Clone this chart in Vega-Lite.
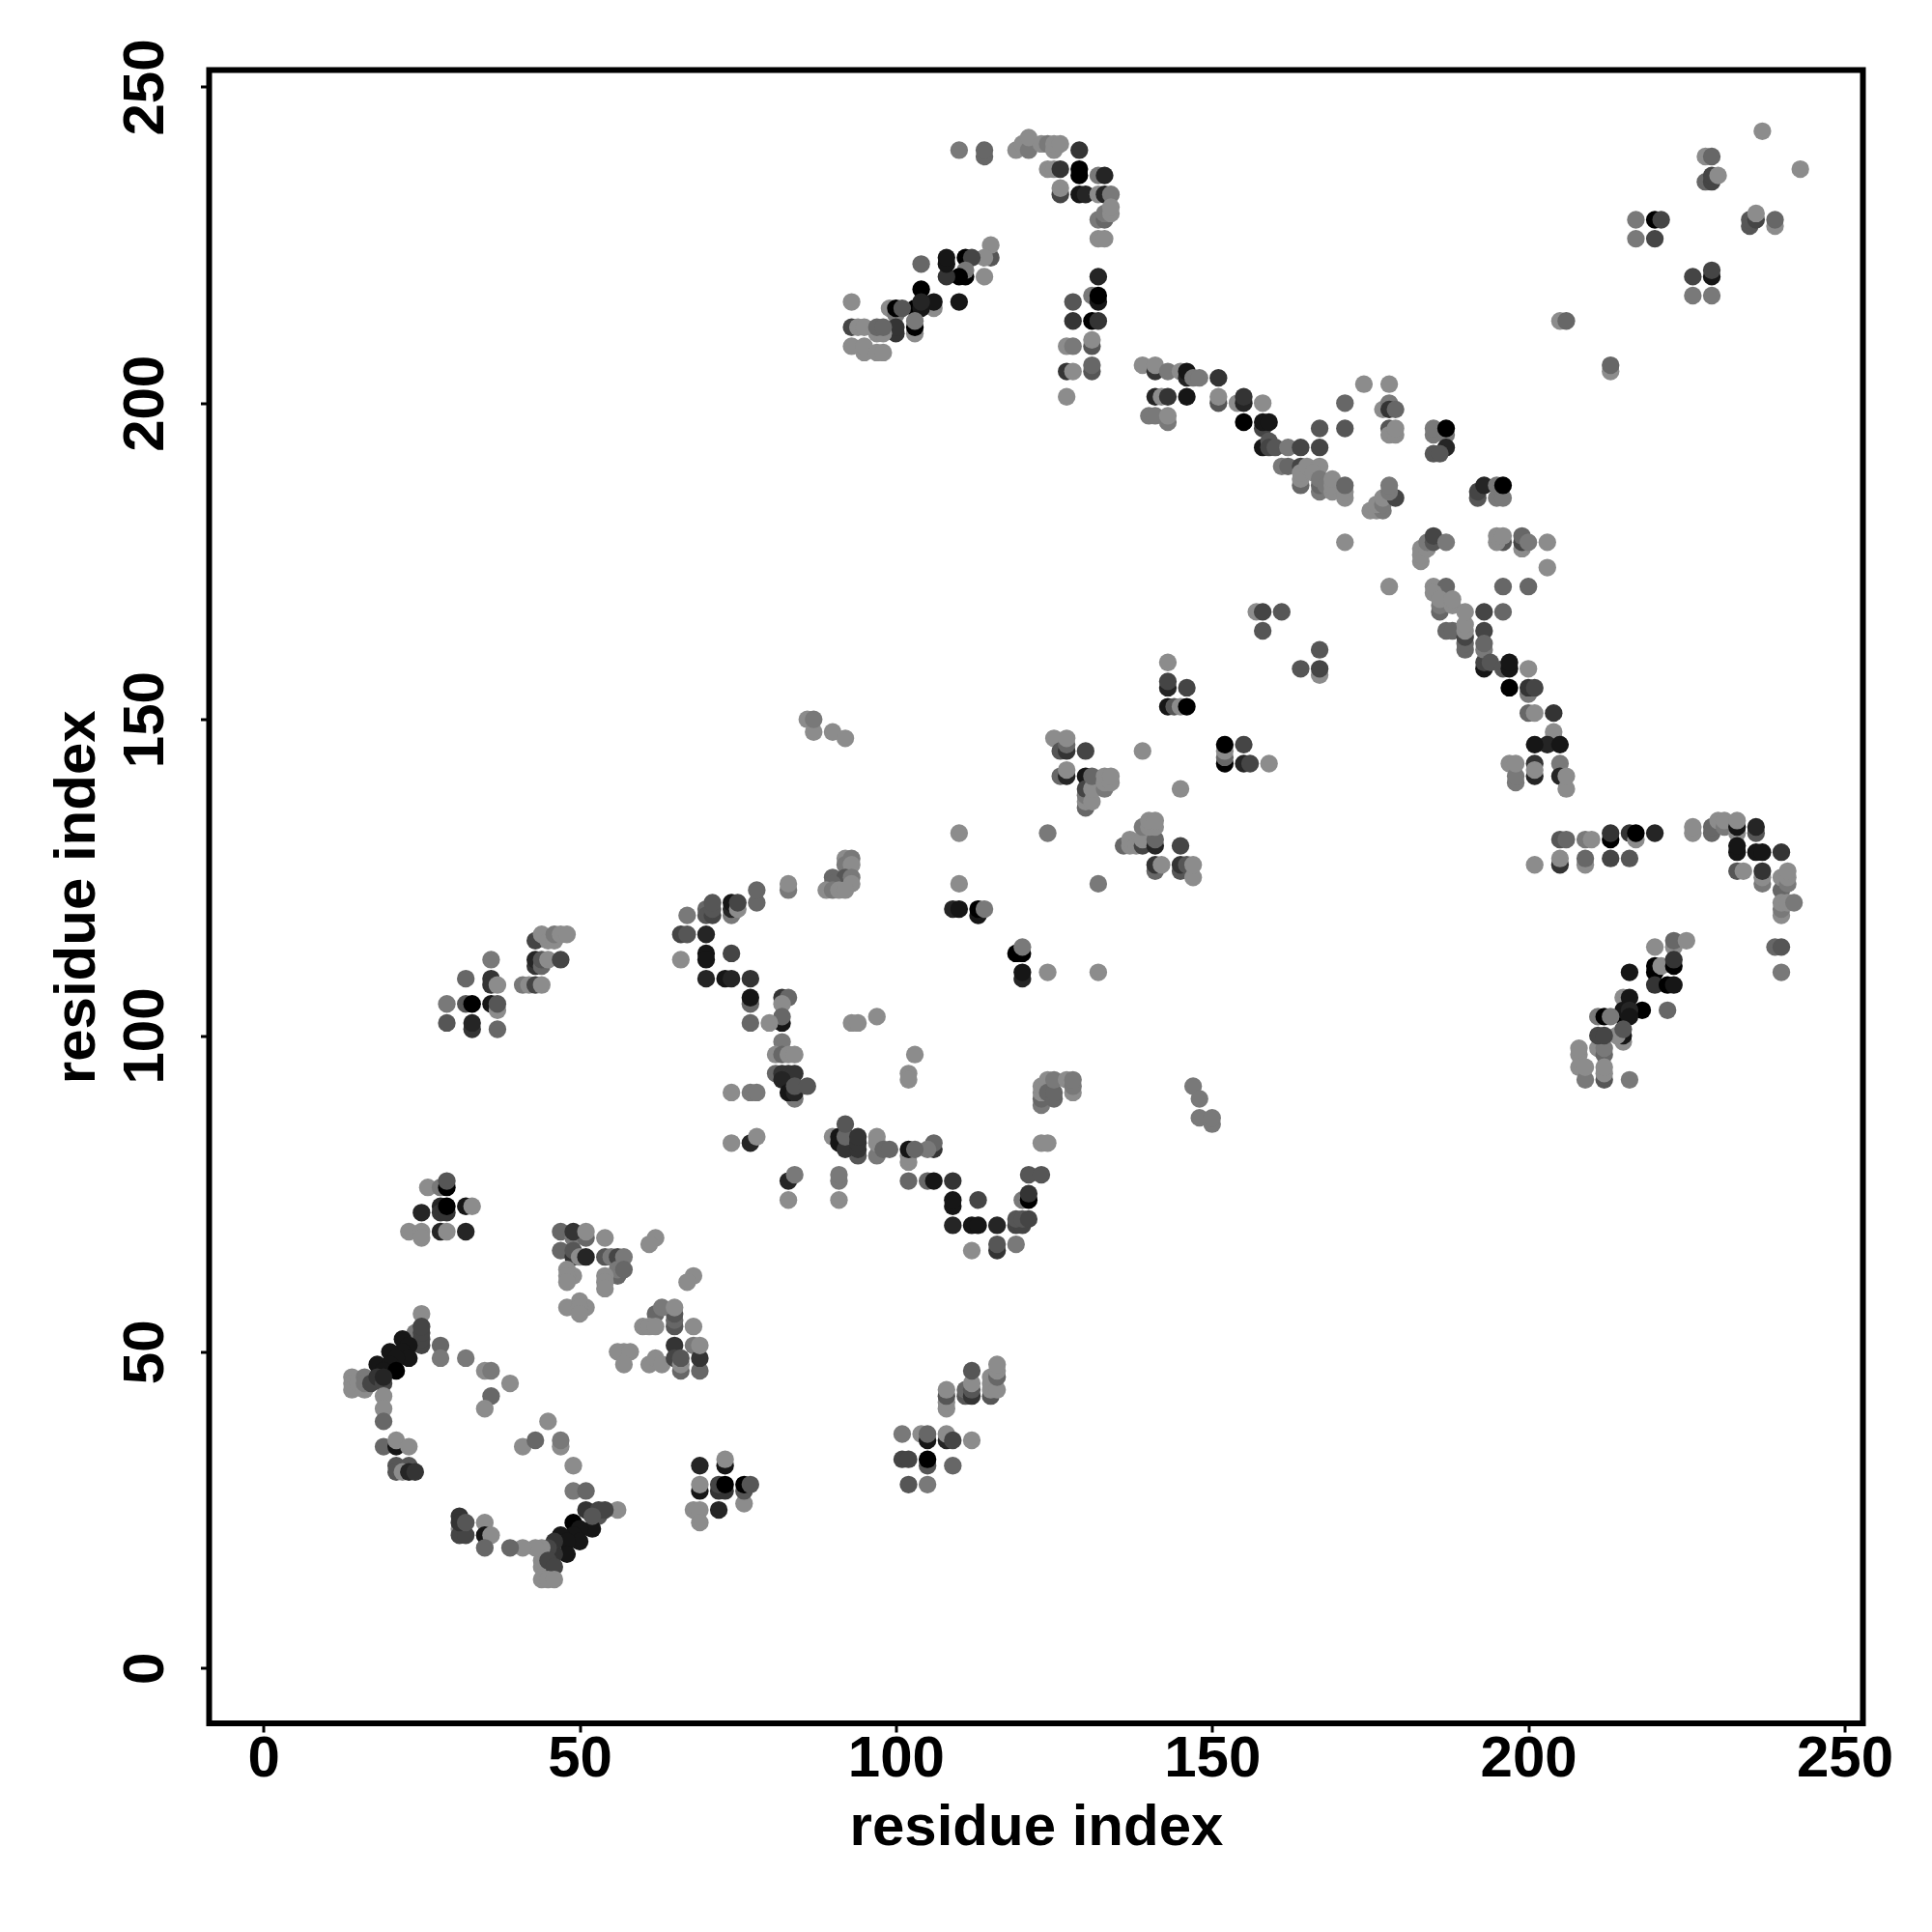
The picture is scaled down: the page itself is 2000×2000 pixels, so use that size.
{"$schema":"https://vega.github.io/schema/vega-lite/v6.json","width":1712,"height":1711.5,"autosize":"none","padding":{"left":216.5,"top":72.5,"right":71.5,"bottom":216},"background":"white","config":{"view":{"stroke":"black","strokeWidth":6}},"data":{"values":[
{"x":26,"y":76,"s":0},{"x":28,"y":76,"s":1},{"x":29,"y":76,"s":8},{"x":29,"y":77,"s":3},{"x":25,"y":72,"s":6},{"x":28,"y":73,"s":6},{"x":28,"y":72,"s":5},{"x":29,"y":72,"s":5},{"x":29,"y":73,"s":8},{"x":32,"y":73,"s":7},{"x":33,"y":73,"s":0},{"x":23,"y":69,"s":0},{"x":25,"y":69,"s":0},{"x":25,"y":68,"s":0},{"x":28,"y":69,"s":6},{"x":29,"y":69,"s":0},{"x":32,"y":69,"s":6},
{"x":47,"y":69,"s":2},{"x":49,"y":68,"s":1},{"x":51,"y":68,"s":2},{"x":49,"y":69,"s":5},{"x":51,"y":69,"s":0},{"x":54,"y":68,"s":0},{"x":62,"y":68,"s":0},{"x":61,"y":67,"s":0},{"x":47,"y":66,"s":2},{"x":49,"y":65,"s":5},{"x":49,"y":66,"s":3},{"x":50,"y":65,"s":0},{"x":51,"y":65,"s":6},{"x":54,"y":65,"s":3},{"x":55,"y":65,"s":1},{"x":56,"y":65,"s":4},{"x":57,"y":65,"s":1},{"x":48,"y":63,"s":0},{"x":49,"y":62,"s":0},{"x":48,"y":62,"s":0},{"x":48,"y":61,"s":0},{"x":56,"y":62,"s":2},{"x":56,"y":63,"s":1},{"x":57,"y":63,"s":2},{"x":54,"y":62,"s":0},{"x":54,"y":61,"s":0},{"x":54,"y":60,"s":0},{"x":68,"y":62,"s":0},{"x":67,"y":61,"s":0},{"x":48,"y":57,"s":0},{"x":50,"y":58,"s":0},{"x":51,"y":57,"s":0},{"x":50,"y":57,"s":0},{"x":50,"y":56,"s":0},
{"x":65,"y":54,"s":3},{"x":65,"y":55,"s":2},{"x":65,"y":56,"s":3},{"x":62,"y":56,"s":2},{"x":63,"y":57,"s":1},{"x":65,"y":57,"s":0},{"x":60,"y":54,"s":0},{"x":61,"y":54,"s":0},{"x":62,"y":54,"s":0},{"x":68,"y":54,"s":0},{"x":57,"y":50,"s":0},{"x":56,"y":50,"s":0},{"x":58,"y":50,"s":0},{"x":57,"y":48,"s":0},{"x":61,"y":48,"s":0},{"x":62,"y":49,"s":0},{"x":63,"y":48,"s":0},{"x":65,"y":51,"s":5},{"x":65,"y":49,"s":4},{"x":66,"y":47,"s":2},{"x":66,"y":48,"s":0},{"x":66,"y":49,"s":3},{"x":68,"y":51,"s":1},{"x":69,"y":47,"s":2},{"x":69,"y":49,"s":5},{"x":69,"y":51,"s":0},
{"x":25,"y":56,"s":0},{"x":24,"y":52,"s":2},{"x":24,"y":53,"s":1},{"x":25,"y":51,"s":4},{"x":25,"y":52,"s":4},{"x":25,"y":53,"s":4},{"x":25,"y":54,"s":4},{"x":22,"y":52,"s":7},{"x":23,"y":51,"s":7},{"x":22,"y":50,"s":7},{"x":20,"y":50,"s":7},{"x":23,"y":49,"s":7},{"x":21,"y":49,"s":7},{"x":18,"y":48,"s":7},{"x":20,"y":48,"s":7},{"x":19,"y":47,"s":7},{"x":21,"y":47,"s":8},{"x":14,"y":46,"s":0},{"x":14,"y":45,"s":0},{"x":14,"y":44,"s":0},{"x":15,"y":45,"s":0},{"x":16,"y":44,"s":0},{"x":16,"y":46,"s":1},{"x":16,"y":45,"s":1},{"x":17,"y":45,"s":4},{"x":18,"y":46,"s":5},{"x":19,"y":45,"s":4},{"x":19,"y":46,"s":6},{"x":19,"y":43,"s":0},{"x":19,"y":41,"s":0},{"x":19,"y":39,"s":2},
{"x":28,"y":51,"s":2},{"x":28,"y":49,"s":1},{"x":32,"y":49,"s":1},{"x":35,"y":47,"s":0},{"x":36,"y":47,"s":1},{"x":39,"y":45,"s":0},{"x":36,"y":43,"s":2},{"x":35,"y":41,"s":0},{"x":45,"y":39,"s":0},{"x":41,"y":35,"s":0},{"x":43,"y":36,"s":2},{"x":47,"y":35,"s":0},{"x":47,"y":36,"s":1},{"x":49,"y":32,"s":0},{"x":49,"y":28,"s":1},{"x":51,"y":28,"s":2},
{"x":56,"y":25,"s":0},{"x":53,"y":24,"s":3},{"x":51,"y":25,"s":5},{"x":53,"y":25,"s":4},{"x":54,"y":25,"s":4},{"x":52,"y":22,"s":7},{"x":52,"y":24,"s":3},{"x":49,"y":23,"s":8},{"x":50,"y":22,"s":7},{"x":49,"y":21,"s":7},{"x":50,"y":20,"s":7},{"x":47,"y":21,"s":7},{"x":48,"y":20,"s":7},{"x":48,"y":18,"s":7},{"x":46,"y":18,"s":5},{"x":46,"y":20,"s":5},{"x":45,"y":19,"s":4},{"x":44,"y":19,"s":0},{"x":44,"y":16,"s":0},{"x":44,"y":17,"s":0},{"x":45,"y":17,"s":4},{"x":46,"y":16,"s":4},{"x":44,"y":14,"s":0},{"x":45,"y":14,"s":0},{"x":46,"y":14,"s":0},{"x":43,"y":19,"s":0},{"x":41,"y":19,"s":0},{"x":39,"y":19,"s":2},{"x":35,"y":23,"s":0},{"x":35,"y":21,"s":7},{"x":36,"y":21,"s":0},{"x":35,"y":19,"s":2},{"x":31,"y":22,"s":0},{"x":31,"y":21,"s":4},{"x":32,"y":21,"s":4},{"x":31,"y":24,"s":5},{"x":31,"y":23,"s":5},{"x":32,"y":23,"s":3},
{"x":19,"y":35,"s":2},{"x":21,"y":35,"s":7},{"x":21,"y":36,"s":0},{"x":23,"y":35,"s":0},{"x":21,"y":32,"s":3},{"x":23,"y":32,"s":3},{"x":21,"y":31,"s":3},{"x":22,"y":31,"s":0},{"x":23,"y":31,"s":6},{"x":24,"y":31,"s":5},
{"x":69,"y":32,"s":6},{"x":73,"y":32,"s":7},{"x":73,"y":33,"s":0},{"x":69,"y":28,"s":7},{"x":69,"y":29,"s":0},{"x":72,"y":28,"s":5},{"x":73,"y":28,"s":5},{"x":72,"y":29,"s":4},{"x":73,"y":29,"s":8},{"x":76,"y":26,"s":0},{"x":76,"y":28,"s":3},{"x":76,"y":29,"s":8},{"x":77,"y":29,"s":3},{"x":68,"y":25,"s":0},{"x":69,"y":25,"s":0},{"x":72,"y":25,"s":6},{"x":69,"y":23,"s":0},
{"x":147,"y":92,"s":1},{"x":148,"y":90,"s":1},{"x":148,"y":87,"s":1},{"x":150,"y":86,"s":1},{"x":150,"y":87,"s":1},
{"x":86,"y":150,"s":0},{"x":87,"y":148,"s":0},{"x":87,"y":150,"s":1},{"x":90,"y":148,"s":0},{"x":92,"y":147,"s":0},
{"x":110,"y":132,"s":0},{"x":110,"y":124,"s":0},{"x":132,"y":124,"s":1},{"x":124,"y":132,"s":1},
{"x":92,"y":128,"s":0},{"x":92,"y":127,"s":1},{"x":93,"y":128,"s":1},{"x":93,"y":127,"s":0},{"x":90,"y":125,"s":2},{"x":92,"y":125,"s":3},{"x":93,"y":125,"s":1},{"x":93,"y":124,"s":0},{"x":90,"y":124,"s":2},{"x":89,"y":123,"s":0},{"x":90,"y":123,"s":1},{"x":91,"y":123,"s":0},{"x":92,"y":123,"s":0},{"x":83,"y":123,"s":1},{"x":83,"y":124,"s":0},{"x":78,"y":121,"s":2},{"x":78,"y":123,"s":2},
{"x":74,"y":119,"s":1},{"x":74,"y":120,"s":6},{"x":74,"y":121,"s":7},{"x":75,"y":120,"s":0},{"x":75,"y":121,"s":4},{"x":70,"y":120,"s":2},{"x":70,"y":119,"s":3},{"x":71,"y":119,"s":4},{"x":71,"y":120,"s":3},{"x":71,"y":121,"s":3},{"x":67,"y":119,"s":1},{"x":66,"y":116,"s":4},{"x":67,"y":116,"s":3},{"x":70,"y":116,"s":6},{"x":70,"y":113,"s":7},{"x":70,"y":112,"s":7},{"x":74,"y":113,"s":4},{"x":66,"y":112,"s":0},{"x":70,"y":109,"s":6},{"x":73,"y":109,"s":7},{"x":74,"y":109,"s":6},{"x":77,"y":109,"s":5},{"x":77,"y":105,"s":2},{"x":77,"y":106,"s":7},{"x":82,"y":106,"s":5},{"x":83,"y":106,"s":2},{"x":82,"y":105,"s":0},{"x":82,"y":102,"s":7},{"x":82,"y":103,"s":2},{"x":77,"y":102,"s":2},{"x":80,"y":102,"s":0},{"x":93,"y":102,"s":0},{"x":94,"y":102,"s":0},{"x":97,"y":103,"s":0},
{"x":82,"y":99,"s":1},{"x":81,"y":97,"s":0},{"x":82,"y":97,"s":2},{"x":83,"y":97,"s":0},{"x":84,"y":97,"s":0},{"x":81,"y":94,"s":2},{"x":82,"y":94,"s":5},{"x":83,"y":94,"s":5},{"x":84,"y":94,"s":5},{"x":82,"y":93,"s":6},{"x":84,"y":90,"s":1},{"x":83,"y":91,"s":7},{"x":84,"y":91,"s":6},{"x":84,"y":92,"s":3},{"x":86,"y":92,"s":3},{"x":74,"y":91,"s":0},{"x":77,"y":91,"s":1},{"x":78,"y":91,"s":1},{"x":103,"y":97,"s":0},{"x":102,"y":94,"s":0},{"x":102,"y":93,"s":0},
{"x":109,"y":120,"s":6},{"x":110,"y":120,"s":7},{"x":113,"y":119,"s":7},{"x":113,"y":120,"s":8},{"x":114,"y":120,"s":1},{"x":119,"y":113,"s":8},{"x":120,"y":113,"s":8},{"x":120,"y":114,"s":1},{"x":120,"y":109,"s":6},{"x":120,"y":110,"s":7},{"x":124,"y":110,"s":0},{"x":132,"y":110,"s":0},
{"x":123,"y":89,"s":1},{"x":123,"y":90,"s":2},{"x":123,"y":91,"s":0},{"x":123,"y":92,"s":0},{"x":124,"y":93,"s":0},{"x":124,"y":91,"s":2},{"x":125,"y":90,"s":2},{"x":125,"y":91,"s":2},{"x":125,"y":93,"s":1},{"x":127,"y":93,"s":0},{"x":128,"y":91,"s":0},{"x":128,"y":92,"s":1},{"x":128,"y":93,"s":1},{"x":123,"y":83,"s":0},{"x":124,"y":83,"s":0},{"x":121,"y":78,"s":3},{"x":123,"y":78,"s":3},
{"x":120,"y":74,"s":1},{"x":121,"y":74,"s":8},{"x":121,"y":75,"s":5},{"x":119,"y":70,"s":4},{"x":120,"y":70,"s":4},{"x":119,"y":71,"s":3},{"x":120,"y":71,"s":3},{"x":121,"y":71,"s":4},{"x":116,"y":70,"s":6},{"x":112,"y":70,"s":7},{"x":113,"y":70,"s":7},{"x":109,"y":70,"s":6},{"x":109,"y":73,"s":7},{"x":109,"y":74,"s":7},{"x":113,"y":74,"s":4},{"x":109,"y":77,"s":5},{"x":105,"y":77,"s":2},{"x":106,"y":77,"s":7},{"x":102,"y":77,"s":2},{"x":116,"y":66,"s":5},{"x":116,"y":67,"s":3},{"x":119,"y":67,"s":1},{"x":112,"y":66,"s":0},
{"x":106,"y":82,"s":5},{"x":106,"y":83,"s":2},{"x":105,"y":82,"s":1},{"x":102,"y":80,"s":0},{"x":102,"y":81,"s":0},{"x":102,"y":82,"s":7},{"x":103,"y":82,"s":2},{"x":97,"y":81,"s":1},{"x":97,"y":83,"s":0},{"x":97,"y":84,"s":0},{"x":98,"y":82,"s":2},{"x":99,"y":82,"s":2},{"x":94,"y":81,"s":3},{"x":90,"y":84,"s":0},{"x":91,"y":84,"s":7},{"x":91,"y":83,"s":7},{"x":92,"y":82,"s":5},{"x":92,"y":84,"s":2},{"x":92,"y":86,"s":3},{"x":94,"y":82,"s":5},{"x":94,"y":83,"s":5},{"x":94,"y":84,"s":5},
{"x":74,"y":83,"s":0},{"x":77,"y":83,"s":6},{"x":78,"y":84,"s":0},{"x":83,"y":77,"s":6},{"x":84,"y":78,"s":1},{"x":83,"y":74,"s":0},{"x":91,"y":77,"s":1},{"x":91,"y":78,"s":1},{"x":91,"y":74,"s":0},
{"x":139,"y":206,"s":0},{"x":141,"y":205,"s":5},{"x":141,"y":206,"s":0},{"x":143,"y":205,"s":1},{"x":145,"y":205,"s":0},{"x":146,"y":204,"s":6},{"x":146,"y":205,"s":7},{"x":147,"y":204,"s":1},{"x":148,"y":204,"s":1},{"x":151,"y":204,"s":5},{"x":141,"y":201,"s":6},{"x":142,"y":201,"s":0},{"x":143,"y":201,"s":5},{"x":146,"y":201,"s":7},{"x":140,"y":198,"s":1},{"x":141,"y":198,"s":1},{"x":143,"y":197,"s":1},{"x":143,"y":198,"s":0},{"x":151,"y":200,"s":3},{"x":151,"y":201,"s":0},{"x":154,"y":200,"s":0},{"x":155,"y":200,"s":6},{"x":155,"y":201,"s":5},{"x":158,"y":200,"s":0},{"x":155,"y":197,"s":8},{"x":158,"y":196,"s":4},{"x":158,"y":197,"s":7},{"x":159,"y":197,"s":7},{"x":158,"y":193,"s":7},{"x":159,"y":194,"s":3},{"x":159,"y":193,"s":4},{"x":160,"y":193,"s":3},{"x":162,"y":193,"s":1},{"x":164,"y":193,"s":4},{"x":167,"y":193,"s":4},{"x":167,"y":196,"s":3},{"x":171,"y":196,"s":3},{"x":171,"y":200,"s":2},{"x":174,"y":203,"s":0},{"x":178,"y":203,"s":0},{"x":177,"y":199,"s":0},{"x":178,"y":200,"s":1},{"x":178,"y":199,"s":5},{"x":179,"y":199,"s":2},{"x":178,"y":196,"s":3},{"x":178,"y":195,"s":0},{"x":179,"y":195,"s":0},{"x":179,"y":196,"s":0},
{"x":185,"y":195,"s":1},{"x":185,"y":196,"s":1},{"x":187,"y":195,"s":1},{"x":187,"y":196,"s":8},{"x":187,"y":193,"s":6},{"x":185,"y":192,"s":3},{"x":186,"y":192,"s":3},{"x":192,"y":185,"s":3},{"x":192,"y":186,"s":4},{"x":193,"y":187,"s":6},{"x":195,"y":185,"s":1},{"x":196,"y":185,"s":1},{"x":195,"y":187,"s":1},{"x":196,"y":187,"s":8},
{"x":161,"y":190,"s":1},{"x":162,"y":190,"s":2},{"x":164,"y":187,"s":2},{"x":164,"y":190,"s":4},{"x":164,"y":188,"s":0},{"x":164,"y":189,"s":0},{"x":165,"y":190,"s":0},{"x":167,"y":190,"s":0},{"x":166,"y":189,"s":0},{"x":167,"y":186,"s":1},{"x":167,"y":187,"s":2},{"x":167,"y":188,"s":1},{"x":168,"y":187,"s":1},{"x":169,"y":186,"s":0},{"x":169,"y":187,"s":0},{"x":169,"y":188,"s":0},{"x":171,"y":185,"s":0},{"x":171,"y":186,"s":0},{"x":171,"y":187,"s":2},
{"x":175,"y":183,"s":0},{"x":176,"y":183,"s":0},{"x":177,"y":183,"s":1},{"x":176,"y":184,"s":0},{"x":177,"y":184,"s":1},{"x":177,"y":185,"s":0},{"x":179,"y":185,"s":4},{"x":178,"y":186,"s":1},{"x":178,"y":187,"s":1},{"x":171,"y":178,"s":0},
{"x":183,"y":175,"s":0},{"x":183,"y":176,"s":0},{"x":183,"y":177,"s":0},{"x":184,"y":177,"s":0},{"x":184,"y":178,"s":1},{"x":185,"y":178,"s":3},{"x":185,"y":179,"s":4},{"x":187,"y":178,"s":1},{"x":196,"y":178,"s":3},{"x":195,"y":178,"s":0},{"x":195,"y":179,"s":0},{"x":196,"y":179,"s":0},{"x":199,"y":177,"s":0},{"x":199,"y":178,"s":4},{"x":199,"y":179,"s":2},{"x":200,"y":178,"s":1},{"x":203,"y":178,"s":0},{"x":203,"y":174,"s":0},
{"x":178,"y":171,"s":0},{"x":196,"y":171,"s":2},{"x":200,"y":171,"s":2},{"x":185,"y":171,"s":0},{"x":187,"y":171,"s":2},{"x":185,"y":170,"s":0},{"x":186,"y":167,"s":2},{"x":186,"y":168,"s":1},{"x":186,"y":169,"s":0},{"x":188,"y":168,"s":0},{"x":188,"y":169,"s":0},{"x":193,"y":167,"s":4},{"x":196,"y":167,"s":2},{"x":187,"y":164,"s":2},{"x":188,"y":164,"s":2},{"x":190,"y":161,"s":2},{"x":190,"y":162,"s":2},{"x":190,"y":163,"s":4},{"x":190,"y":164,"s":0},{"x":190,"y":165,"s":0},{"x":190,"y":167,"s":0},{"x":193,"y":164,"s":4},{"x":193,"y":158,"s":7},{"x":193,"y":159,"s":4},{"x":193,"y":161,"s":1},{"x":193,"y":162,"s":2},{"x":194,"y":159,"s":3},{"x":196,"y":158,"s":3},{"x":197,"y":158,"s":7},{"x":197,"y":159,"s":7},{"x":200,"y":158,"s":0},{"x":197,"y":155,"s":8},{"x":200,"y":154,"s":1},{"x":200,"y":155,"s":5},{"x":201,"y":155,"s":4},{"x":200,"y":151,"s":2},{"x":201,"y":151,"s":0},{"x":204,"y":151,"s":5},{"x":204,"y":147,"s":1},{"x":204,"y":148,"s":0},{"x":203,"y":146,"s":6},{"x":205,"y":146,"s":7},{"x":201,"y":146,"s":7},{"x":205,"y":143,"s":1},{"x":201,"y":141,"s":6},{"x":201,"y":143,"s":5},{"x":201,"y":142,"s":0},{"x":197,"y":143,"s":0},{"x":198,"y":140,"s":1},{"x":198,"y":141,"s":1},{"x":198,"y":143,"s":0},{"x":205,"y":141,"s":6},{"x":206,"y":139,"s":0},{"x":206,"y":141,"s":0},
{"x":157,"y":167,"s":0},{"x":158,"y":167,"s":4},{"x":161,"y":167,"s":3},{"x":158,"y":164,"s":3},{"x":167,"y":161,"s":3},{"x":164,"y":158,"s":3},{"x":167,"y":157,"s":0},{"x":167,"y":158,"s":4},{"x":143,"y":159,"s":0},{"x":143,"y":155,"s":6},{"x":143,"y":156,"s":4},{"x":146,"y":155,"s":4},{"x":143,"y":152,"s":7},{"x":144,"y":152,"s":3},{"x":145,"y":152,"s":0},{"x":146,"y":152,"s":8},{"x":152,"y":143,"s":8},{"x":152,"y":144,"s":2},{"x":152,"y":145,"s":0},{"x":152,"y":146,"s":8},{"x":155,"y":146,"s":4},{"x":155,"y":143,"s":6},{"x":156,"y":143,"s":4},{"x":159,"y":143,"s":0},{"x":139,"y":145,"s":0},{"x":145,"y":139,"s":0},
{"x":125,"y":147,"s":0},{"x":126,"y":145,"s":3},{"x":127,"y":145,"s":5},{"x":127,"y":146,"s":2},{"x":127,"y":147,"s":0},{"x":130,"y":145,"s":4},{"x":126,"y":141,"s":2},{"x":127,"y":141,"s":6},{"x":127,"y":142,"s":0},{"x":130,"y":141,"s":7},{"x":130,"y":136,"s":2},{"x":130,"y":137,"s":0},{"x":130,"y":138,"s":1},{"x":130,"y":139,"s":4},{"x":131,"y":137,"s":0},{"x":131,"y":139,"s":0},{"x":131,"y":141,"s":2},{"x":133,"y":139,"s":1},{"x":133,"y":140,"s":0},{"x":133,"y":141,"s":0},{"x":134,"y":140,"s":0},{"x":134,"y":141,"s":0},
{"x":136,"y":130,"s":2},{"x":137,"y":130,"s":0},{"x":137,"y":131,"s":0},{"x":138,"y":130,"s":0},{"x":139,"y":130,"s":4},{"x":139,"y":131,"s":0},{"x":139,"y":133,"s":1},{"x":141,"y":130,"s":6},{"x":141,"y":131,"s":2},{"x":140,"y":133,"s":0},{"x":141,"y":133,"s":0},{"x":140,"y":134,"s":0},{"x":141,"y":134,"s":0},{"x":145,"y":130,"s":4},{"x":141,"y":126,"s":2},{"x":141,"y":127,"s":5},{"x":142,"y":127,"s":0},{"x":145,"y":126,"s":3},{"x":145,"y":127,"s":5},{"x":146,"y":127,"s":3},{"x":147,"y":125,"s":0},{"x":147,"y":127,"s":0},
{"x":115,"y":43,"s":3},{"x":115,"y":44,"s":0},{"x":115,"y":45,"s":0},{"x":115,"y":46,"s":0},{"x":116,"y":44,"s":0},{"x":116,"y":46,"s":2},{"x":116,"y":47,"s":0},{"x":116,"y":48,"s":0},{"x":111,"y":43,"s":3},{"x":111,"y":44,"s":2},{"x":112,"y":43,"s":5},{"x":112,"y":44,"s":3},{"x":112,"y":45,"s":0},{"x":112,"y":47,"s":3},{"x":108,"y":41,"s":0},{"x":108,"y":42,"s":0},{"x":108,"y":43,"s":3},{"x":108,"y":44,"s":0},
{"x":101,"y":37,"s":1},{"x":104,"y":37,"s":0},{"x":105,"y":36,"s":7},{"x":105,"y":37,"s":2},{"x":108,"y":36,"s":6},{"x":108,"y":37,"s":0},{"x":109,"y":36,"s":4},{"x":112,"y":36,"s":0},{"x":101,"y":33,"s":4},{"x":102,"y":33,"s":4},{"x":105,"y":32,"s":3},{"x":105,"y":33,"s":8},{"x":109,"y":32,"s":2},{"x":102,"y":29,"s":3},{"x":105,"y":29,"s":1},
{"x":43,"y":115,"s":4},{"x":44,"y":116,"s":0},{"x":45,"y":115,"s":0},{"x":46,"y":115,"s":0},{"x":46,"y":116,"s":1},{"x":47,"y":116,"s":0},{"x":48,"y":116,"s":0},{"x":43,"y":111,"s":5},{"x":43,"y":112,"s":6},{"x":44,"y":111,"s":2},{"x":44,"y":112,"s":3},{"x":45,"y":112,"s":0},{"x":47,"y":112,"s":4},{"x":36,"y":112,"s":1},{"x":36,"y":109,"s":5},{"x":36,"y":108,"s":5},{"x":37,"y":108,"s":0},{"x":32,"y":109,"s":2},{"x":41,"y":108,"s":1},{"x":42,"y":108,"s":0},{"x":43,"y":108,"s":4},{"x":44,"y":108,"s":0},{"x":29,"y":105,"s":1},{"x":32,"y":105,"s":3},{"x":33,"y":105,"s":8},{"x":36,"y":105,"s":7},{"x":37,"y":104,"s":0},{"x":37,"y":105,"s":3},{"x":29,"y":102,"s":3},{"x":33,"y":101,"s":5},{"x":33,"y":102,"s":6},{"x":37,"y":101,"s":2},
{"x":237,"y":243,"s":0},{"x":243,"y":237,"s":0},{"x":228,"y":239,"s":0},{"x":229,"y":239,"s":2},{"x":228,"y":235,"s":2},{"x":229,"y":235,"s":4},{"x":229,"y":236,"s":4},{"x":230,"y":236,"s":0},{"x":217,"y":229,"s":1},{"x":220,"y":229,"s":8},{"x":221,"y":229,"s":4},{"x":217,"y":226,"s":1},{"x":220,"y":226,"s":4},{"x":226,"y":220,"s":4},{"x":229,"y":220,"s":7},{"x":229,"y":221,"s":4},{"x":226,"y":217,"s":1},{"x":229,"y":217,"s":1},{"x":235,"y":228,"s":3},{"x":235,"y":229,"s":3},{"x":236,"y":229,"s":4},{"x":236,"y":230,"s":0},{"x":239,"y":228,"s":0},{"x":239,"y":229,"s":2},{"x":205,"y":213,"s":0},{"x":206,"y":213,"s":2},{"x":213,"y":205,"s":0},{"x":213,"y":206,"s":2},
{"x":110,"y":240,"s":1},{"x":114,"y":239,"s":2},{"x":114,"y":240,"s":2},{"x":119,"y":240,"s":0},{"x":120,"y":241,"s":0},{"x":121,"y":240,"s":1},{"x":121,"y":242,"s":0},{"x":123,"y":241,"s":0},{"x":124,"y":241,"s":1},{"x":125,"y":240,"s":0},{"x":125,"y":241,"s":0},{"x":126,"y":241,"s":0},{"x":129,"y":240,"s":5},{"x":124,"y":237,"s":0},{"x":125,"y":237,"s":0},{"x":126,"y":237,"s":5},{"x":129,"y":236,"s":8},{"x":129,"y":237,"s":8},{"x":132,"y":236,"s":1},{"x":133,"y":236,"s":6},{"x":126,"y":233,"s":4},{"x":126,"y":234,"s":0},{"x":129,"y":233,"s":7},{"x":130,"y":233,"s":6},{"x":132,"y":233,"s":0},{"x":133,"y":233,"s":6},{"x":134,"y":233,"s":1},{"x":132,"y":229,"s":1},{"x":133,"y":229,"s":2},{"x":133,"y":230,"s":1},{"x":134,"y":230,"s":0},{"x":134,"y":231,"s":0},{"x":132,"y":226,"s":0},{"x":133,"y":226,"s":0},
{"x":115,"y":223,"s":3},{"x":115,"y":225,"s":0},{"x":114,"y":223,"s":0},{"x":114,"y":220,"s":0},{"x":111,"y":223,"s":8},{"x":112,"y":223,"s":4},{"x":111,"y":220,"s":8},{"x":111,"y":221,"s":1},{"x":110,"y":220,"s":8},{"x":108,"y":220,"s":5},{"x":108,"y":222,"s":7},{"x":108,"y":223,"s":7},{"x":104,"y":222,"s":2},{"x":104,"y":218,"s":8},{"x":110,"y":216,"s":7},{"x":106,"y":215,"s":0},{"x":106,"y":216,"s":7},{"x":103,"y":215,"s":8},{"x":104,"y":215,"s":7},{"x":104,"y":216,"s":6},{"x":99,"y":215,"s":0},{"x":100,"y":214,"s":1},{"x":100,"y":215,"s":8},{"x":101,"y":215,"s":3},{"x":103,"y":211,"s":0},{"x":103,"y":212,"s":8},{"x":103,"y":213,"s":1},{"x":100,"y":211,"s":5},{"x":100,"y":212,"s":5},{"x":93,"y":216,"s":0},{"x":93,"y":212,"s":4},{"x":94,"y":212,"s":0},{"x":95,"y":212,"s":0},{"x":97,"y":211,"s":0},{"x":98,"y":211,"s":0},{"x":97,"y":212,"s":2},{"x":98,"y":212,"s":2},{"x":93,"y":209,"s":0},{"x":95,"y":208,"s":0},{"x":95,"y":209,"s":0},{"x":97,"y":208,"s":0},{"x":98,"y":208,"s":0},
{"x":132,"y":220,"s":6},{"x":131,"y":217,"s":1},{"x":132,"y":216,"s":7},{"x":132,"y":217,"s":8},{"x":128,"y":216,"s":3},{"x":128,"y":213,"s":5},{"x":131,"y":213,"s":8},{"x":132,"y":213,"s":5},{"x":127,"y":209,"s":0},{"x":128,"y":209,"s":1},{"x":131,"y":209,"s":3},{"x":131,"y":210,"s":0},{"x":127,"y":205,"s":5},{"x":128,"y":205,"s":0},{"x":131,"y":205,"s":3},{"x":131,"y":206,"s":2},{"x":127,"y":201,"s":0},
{"x":205,"y":131,"s":3},{"x":206,"y":131,"s":2},{"x":209,"y":131,"s":1},{"x":210,"y":131,"s":0},{"x":213,"y":131,"s":8},{"x":213,"y":132,"s":5},{"x":216,"y":132,"s":5},{"x":217,"y":131,"s":0},{"x":217,"y":132,"s":8},{"x":220,"y":132,"s":6},{"x":201,"y":127,"s":0},{"x":205,"y":127,"s":5},{"x":205,"y":128,"s":0},{"x":209,"y":127,"s":0},{"x":209,"y":128,"s":2},{"x":213,"y":128,"s":4},{"x":216,"y":128,"s":3},
{"x":226,"y":132,"s":0},{"x":226,"y":133,"s":0},{"x":229,"y":132,"s":2},{"x":229,"y":133,"s":2},{"x":230,"y":134,"s":0},{"x":231,"y":133,"s":1},{"x":231,"y":134,"s":0},{"x":233,"y":132,"s":0},{"x":233,"y":133,"s":7},{"x":233,"y":134,"s":0},{"x":236,"y":132,"s":3},{"x":236,"y":133,"s":6},{"x":233,"y":129,"s":7},{"x":233,"y":130,"s":7},{"x":236,"y":129,"s":7},{"x":237,"y":129,"s":7},{"x":240,"y":129,"s":5},{"x":233,"y":126,"s":3},{"x":234,"y":126,"s":0},{"x":237,"y":124,"s":1},{"x":237,"y":125,"s":0},{"x":237,"y":126,"s":5},{"x":240,"y":123,"s":2},{"x":240,"y":125,"s":0},{"x":241,"y":124,"s":1},{"x":241,"y":125,"s":0},{"x":241,"y":126,"s":0},{"x":240,"y":119,"s":0},{"x":240,"y":120,"s":1},{"x":240,"y":121,"s":0},{"x":241,"y":121,"s":0},{"x":242,"y":121,"s":1},
{"x":223,"y":114,"s":0},{"x":223,"y":115,"s":2},{"x":225,"y":115,"s":0},{"x":220,"y":114,"s":0},{"x":220,"y":110,"s":8},{"x":220,"y":111,"s":8},{"x":221,"y":111,"s":0},{"x":223,"y":111,"s":8},{"x":223,"y":112,"s":5},{"x":216,"y":110,"s":7},{"x":220,"y":108,"s":5},{"x":222,"y":108,"s":8},{"x":223,"y":108,"s":7},{"x":215,"y":106,"s":0},{"x":216,"y":106,"s":7},{"x":218,"y":104,"s":8},{"x":222,"y":104,"s":2},{"x":215,"y":103,"s":8},{"x":215,"y":104,"s":7},{"x":216,"y":104,"s":6},{"x":216,"y":103,"s":7},{"x":211,"y":103,"s":1},{"x":212,"y":103,"s":8},{"x":213,"y":103,"s":1},{"x":215,"y":99,"s":0},{"x":215,"y":100,"s":7},{"x":214,"y":100,"s":0},{"x":215,"y":101,"s":3},{"x":211,"y":98,"s":0},{"x":212,"y":97,"s":2},{"x":212,"y":98,"s":1},{"x":211,"y":100,"s":4},{"x":212,"y":100,"s":4},{"x":208,"y":97,"s":0},{"x":208,"y":98,"s":0},{"x":208,"y":95,"s":0},{"x":209,"y":93,"s":1},{"x":209,"y":95,"s":0},{"x":212,"y":93,"s":3},{"x":212,"y":94,"s":0},{"x":212,"y":95,"s":0},{"x":216,"y":93,"s":1},{"x":239,"y":114,"s":2},{"x":240,"y":114,"s":3},{"x":240,"y":110,"s":1}
]},"mark":{"type":"circle","size":336,"opacity":1,"stroke":null},"encoding":{"x":{"field":"x","type":"quantitative","scale":{"domain":[-8.58,252.9],"nice":false,"zero":false},"axis":{"title":"residue index","values":[0,50,100,150,200,250],"grid":false,"domain":false,"tickSize":9,"tickWidth":3,"tickColor":"black","labelFont":"Liberation Sans","labelFontWeight":"bold","labelFontSize":60,"labelColor":"black","labelPadding":-2,"labelOverlap":false,"labelFlush":false,"titleFont":"Liberation Sans","titleFontWeight":"bold","titleFontSize":60,"titleColor":"black","titlePadding":12}},"y":{"field":"y","type":"quantitative","scale":{"domain":[-8.75,252.67],"nice":false,"zero":false},"axis":{"title":"residue index","values":[0,50,100,150,200,250],"grid":false,"domain":false,"tickSize":9,"tickWidth":3,"tickColor":"black","labelFont":"Liberation Sans","labelFontWeight":"bold","labelFontSize":60,"labelColor":"black","labelAngle":-90,"labelAlign":"center","labelBaseline":"bottom","labelPadding":26,"labelOverlap":false,"labelFlush":false,"titleFont":"Liberation Sans","titleFontWeight":"bold","titleFontSize":60,"titleColor":"black","titlePadding":10}},"color":{"field":"s","type":"quantitative","legend":null,"scale":{"domain":[0,8],"range":["#8c8c8c","#000000"]}}}}
